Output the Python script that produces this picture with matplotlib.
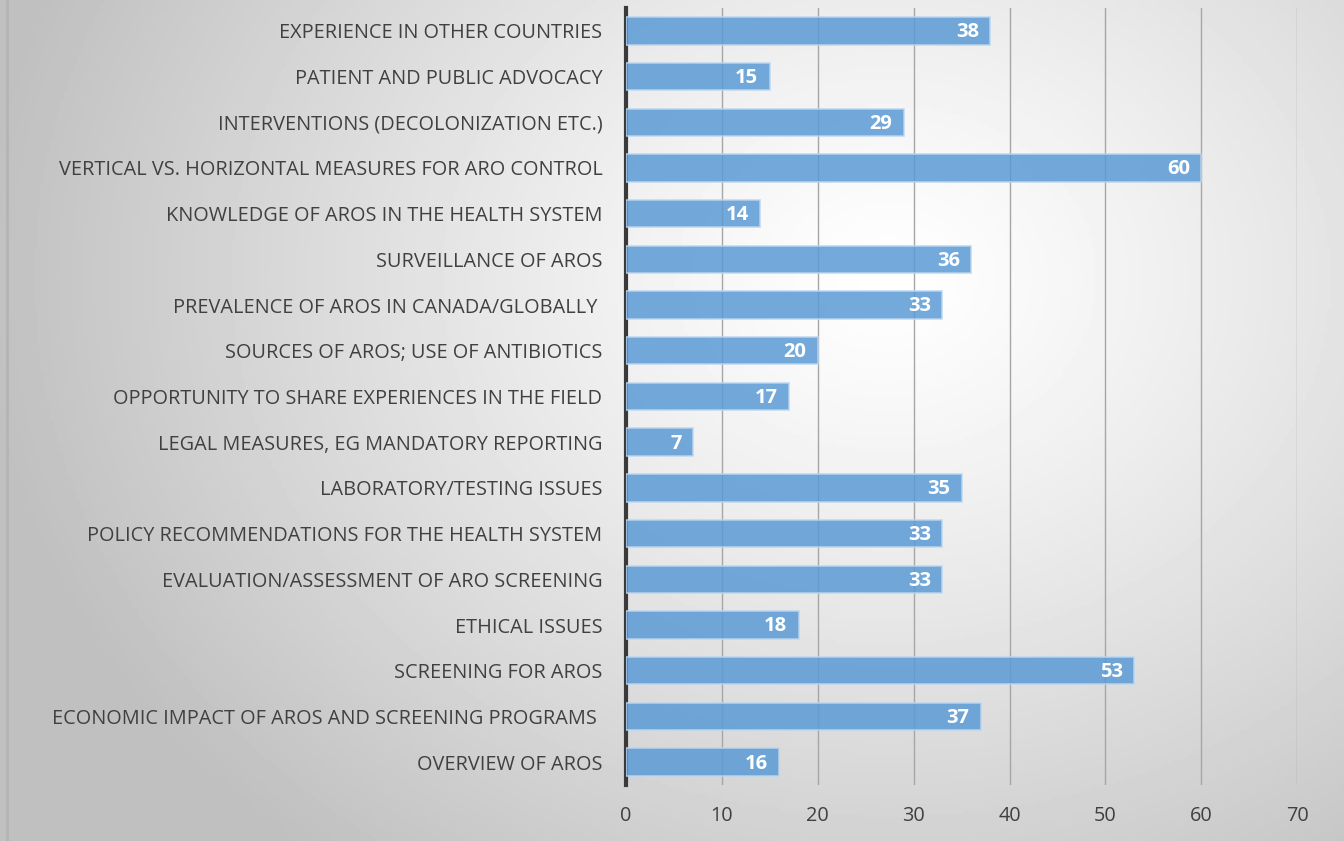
import matplotlib
matplotlib.use('Agg')
import matplotlib.pyplot as plt
import numpy as np

# topics, listed bottom to top as they appear in the chart
topics = [
    'OVERVIEW OF AROS',
    'ECONOMIC IMPACT OF AROS AND SCREENING PROGRAMS ',
    'SCREENING FOR AROS',
    'ETHICAL ISSUES',
    'EVALUATION/ASSESSMENT OF ARO SCREENING',
    'POLICY RECOMMENDATIONS FOR THE HEALTH SYSTEM',
    'LABORATORY/TESTING ISSUES',
    'LEGAL MEASURES, EG MANDATORY REPORTING',
    'OPPORTUNITY TO SHARE EXPERIENCES IN THE FIELD',
    'SOURCES OF AROS; USE OF ANTIBIOTICS',
    'PREVALENCE OF AROS IN CANADA/GLOBALLY ',
    'SURVEILLANCE OF AROS',
    'KNOWLEDGE OF AROS IN THE HEALTH SYSTEM',
    'VERTICAL VS. HORIZONTAL MEASURES FOR ARO CONTROL',
    'INTERVENTIONS (DECOLONIZATION ETC.)',
    'PATIENT AND PUBLIC ADVOCACY',
    'EXPERIENCE IN OTHER COUNTRIES',
]
counts = [16, 37, 53, 18, 33, 33, 35, 7, 17, 20, 33, 36, 14, 60, 29, 15, 38]
xticks = [0, 10, 20, 30, 40, 50, 60, 70]

plt.rcParams['font.family'] = ['Open Sans', 'DejaVu Sans']

fig = plt.figure(figsize=(13.44, 8.41), dpi=100)

# radial grey gradient background (light centre, grey corners)
bg = fig.add_axes([0, 0, 1, 1])
gx, gy = np.meshgrid(np.linspace(0, 1, 400), np.linspace(0, 1, 250))
d = np.sqrt(((gx - 0.66) * 1.25) ** 2 + ((gy - 0.33) * 0.95) ** 2)
shade = 1.0 - 0.25 * np.clip(d / 0.85, 0, 1) ** 1.2
bg.imshow(shade, cmap='gray', vmin=0, vmax=1, aspect='auto',
          extent=[0, 1, 0, 1], origin='upper')
bg.axvline(0.0055, color='#b4b4b4', lw=2)
bg.set_xlim(0, 1)
bg.set_ylim(0, 1)
bg.axis('off')

ax = fig.add_axes([0.4658, 0.0666, 0.4994, 0.9239])
ax.patch.set_alpha(0)
y = np.arange(len(topics))
bars = ax.barh(y, counts, height=0.6, color='#5b9bd5', alpha=0.85,
               edgecolor='#bcd6ef', linewidth=1.2, zorder=3)
for b, v in zip(bars, counts):
    ax.text(b.get_width() - 1.2, b.get_y() + b.get_height() / 2 - 0.03, str(v),
            ha='right', va='center', color='white', fontsize=14.5,
            fontweight='bold', zorder=4)

ax.set_xlim(0, 70)
ax.set_ylim(-0.5, len(topics) - 0.5)
ax.set_xticks(xticks)
ax.set_yticks(y)
ax.set_yticklabels(topics)
ax.grid(axis='x', color='#a6a6a6', lw=1, zorder=0)
for s in ['top', 'right', 'bottom']:
    ax.spines[s].set_visible(False)
ax.spines['left'].set_color('#3a3a3a')
ax.spines['left'].set_linewidth(3)
ax.tick_params(axis='both', length=0, labelsize=14.3, colors='#404040')
ax.tick_params(axis='y', pad=17)
ax.tick_params(axis='x', pad=15)

fig.savefig('out.png', dpi=100)
